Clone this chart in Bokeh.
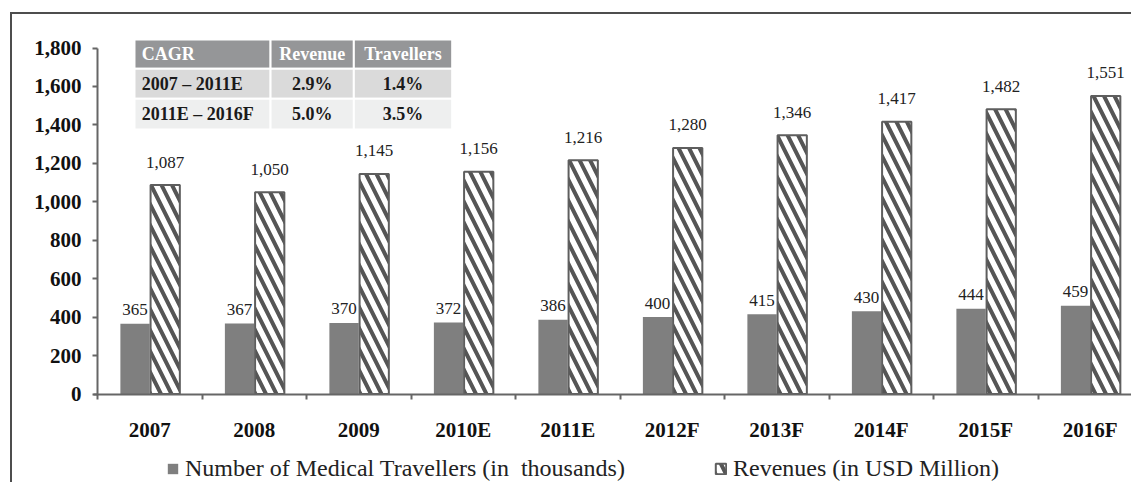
import numpy as np
from bokeh.plotting import figure
from bokeh.models import (ColumnDataSource, Range1d, FixedTicker, NumeralTickFormatter,
                          Legend, LegendItem, LinearAxis)
from bokeh.core.properties import value
from bokeh.embed import file_html
from bokeh.resources import INLINE

# ---------------- data ----------------
years = ["2007", "2008", "2009", "2010E", "2011E", "2012F", "2013F", "2014F", "2015F", "2016F"]
travellers = [365, 367, 370, 372, 386, 400, 415, 430, 444, 459]
revenues = [1087, 1050, 1145, 1156, 1216, 1280, 1346, 1417, 1482, 1551]
y_ticks = [0, 200, 400, 600, 800, 1000, 1200, 1400, 1600, 1800]
legend_labels = ["Number of Medical Travellers (in  thousands)", "Revenues (in USD Million)"]

cagr_header = ["CAGR", "Revenue", "Travellers"]
cagr_periods = ["2007 \u2013 2011E", "2011E \u2013 2016F"]
cagr_revenue = ["2.9%", "5.0%"]
cagr_travellers = ["1.4%", "3.5%"]

# ---------------- layout / style ----------------
W, H = 1131, 482            # canvas size
PX_CAT = 104.5              # pixels per category
PX_VAL = 0.1922             # pixels per value unit
ORIGIN_X, ORIGIN_Y = 97, 393.5   # canvas position of the axes' origin
X0 = -ORIGIN_X / PX_CAT
X1 = X0 + W / PX_CAT
Y1 = ORIGIN_Y / PX_VAL
Y0 = Y1 - H / PX_VAL

SERIF = "Liberation Serif"
BAR_W = 0.28
OFF_T = -0.141
OFF_R = 0.148
TXT = "#111111"
AX = "#666666"

xc = np.arange(len(years)) + 0.5
src = ColumnDataSource(dict(
    xt=xc + OFF_T, xr=xc + OFF_R,
    trav=travellers, rev=revenues,
    trav_lbl=[f"{v:,}" for v in travellers],
    rev_lbl=[f"{v:,}" for v in revenues],
))

p = figure(width=W, height=H, output_backend="svg", toolbar_location=None,
           x_range=Range1d(X0, X1), y_range=Range1d(Y0, Y1),
           x_axis_location=None, y_axis_location=None,
           min_border_left=0, min_border_right=0, min_border_top=0, min_border_bottom=0)
p.outline_line_color = None
p.grid.visible = False
p.background_fill_color = "white"
p.border_fill_color = "white"

# outer frame (top and left edges)
bx = X0 + 10.5 / PX_CAT
by = Y1 - 12.5 / PX_VAL
p.line(x=[bx, bx, X1 + 1], y=[Y0 - 100, by, by], line_color="#4d4d4d", line_width=2,
       line_join="miter")

gray = p.vbar(x="xt", top="trav", width=BAR_W, source=src,
              fill_color="#7f7f7f", line_color=None)
hatch = p.vbar(x="xr", top="rev", width=BAR_W, source=src,
               fill_color="white", line_color="#5e5e5e", line_width=2,
               hatch_pattern="\\", hatch_color="#555555", hatch_scale=21, hatch_weight=4)

p.text(x="xt", y="trav", text="trav_lbl", source=src, text_align="center",
       text_baseline="alphabetic", y_offset=-14, text_font=value(SERIF),
       text_font_size="17px", text_color="#222222")
p.text(x="xr", y="rev", text="rev_lbl", source=src, text_align="center",
       text_baseline="alphabetic", y_offset=-23, text_font=value(SERIF),
       text_font_size="17px", text_color="#222222")

# ---------------- axes ----------------
xa = LinearAxis(fixed_location=0, bounds=(-0.04, X1))
xa.ticker = FixedTicker(ticks=list(xc), minor_ticks=list(np.arange(len(years))))
xa.major_label_overrides = {float(x): y for x, y in zip(xc, years)}
xa.major_tick_out = 0
xa.major_tick_in = 0
xa.minor_tick_out = 5
xa.minor_tick_in = 0
xa.minor_tick_line_color = AX
xa.minor_tick_line_width = 2
xa.axis_line_color = AX
xa.axis_line_width = 2
xa.major_label_standoff = 19
xa.major_label_text_font = SERIF
xa.major_label_text_font_style = "bold"
xa.major_label_text_font_size = "21px"
xa.major_label_text_color = TXT
p.add_layout(xa, "below")

ya = LinearAxis(fixed_location=0, bounds=(0, 1800))
ya.ticker = FixedTicker(ticks=y_ticks, minor_ticks=[])
ya.formatter = NumeralTickFormatter(format="0,0")
ya.major_tick_out = 5
ya.major_tick_in = 0
ya.minor_tick_out = 0
ya.minor_tick_in = 0
ya.major_tick_line_color = AX
ya.major_tick_line_width = 2
ya.axis_line_color = AX
ya.axis_line_width = 2
ya.major_label_standoff = 11
ya.major_label_text_font = SERIF
ya.major_label_text_font_style = "bold"
ya.major_label_text_font_size = "21px"
ya.major_label_text_color = TXT
p.add_layout(ya, "left")

# ---------------- CAGR table ----------------
col_x = [0.354, 1.656, 2.453, 3.394]
row_y = [1844, 1692, 1536, 1376]
row_fill = ["#959698", "#dadada", "#eeefef"]
ql, qr, qt, qb, qf = [], [], [], [], []
for r in range(3):
    for c in range(3):
        ql.append(col_x[c]); qr.append(col_x[c + 1])
        qt.append(row_y[r]); qb.append(row_y[r + 1])
        qf.append(row_fill[r])
p.quad(left=ql, right=qr, top=qt, bottom=qb, fill_color=qf, line_color="white", line_width=2)

rows = [cagr_header] + [[a, b, c] for a, b, c in zip(cagr_periods, cagr_revenue, cagr_travellers)]
tx, ty, tt, tc, ta = [], [], [], [], []
for r, row in enumerate(rows):
    yc = (row_y[r] + row_y[r + 1]) / 2
    for c, s in enumerate(row):
        if c == 0:
            tx.append(col_x[0] + 0.07); ta.append("left")
        else:
            tx.append((col_x[c] + col_x[c + 1]) / 2); ta.append("center")
        ty.append(yc); tt.append(s)
        tc.append("white" if r == 0 else "#1a1a1a")
p.text(x=tx, y=ty, text=tt, text_color=tc, text_align=ta, text_baseline="middle",
       text_font=value(SERIF), text_font_style="bold", text_font_size="18px")

# ---------------- legends ----------------
def make_legend(label, rend, loc):
    lg = Legend(items=[LegendItem(label=label, renderers=[rend])], location=loc,
                orientation="horizontal", padding=0, margin=0, spacing=0,
                glyph_width=13, glyph_height=13, label_standoff=6,
                label_text_font=SERIF, label_text_font_size="24px", label_text_color="#222222",
                border_line_color=None, background_fill_alpha=0)
    p.add_layout(lg)

make_legend(legend_labels[0], gray, (166, 0))
make_legend(legend_labels[1], hatch, (714, 0))

open("out.html", "w").write(file_html(p, INLINE))
